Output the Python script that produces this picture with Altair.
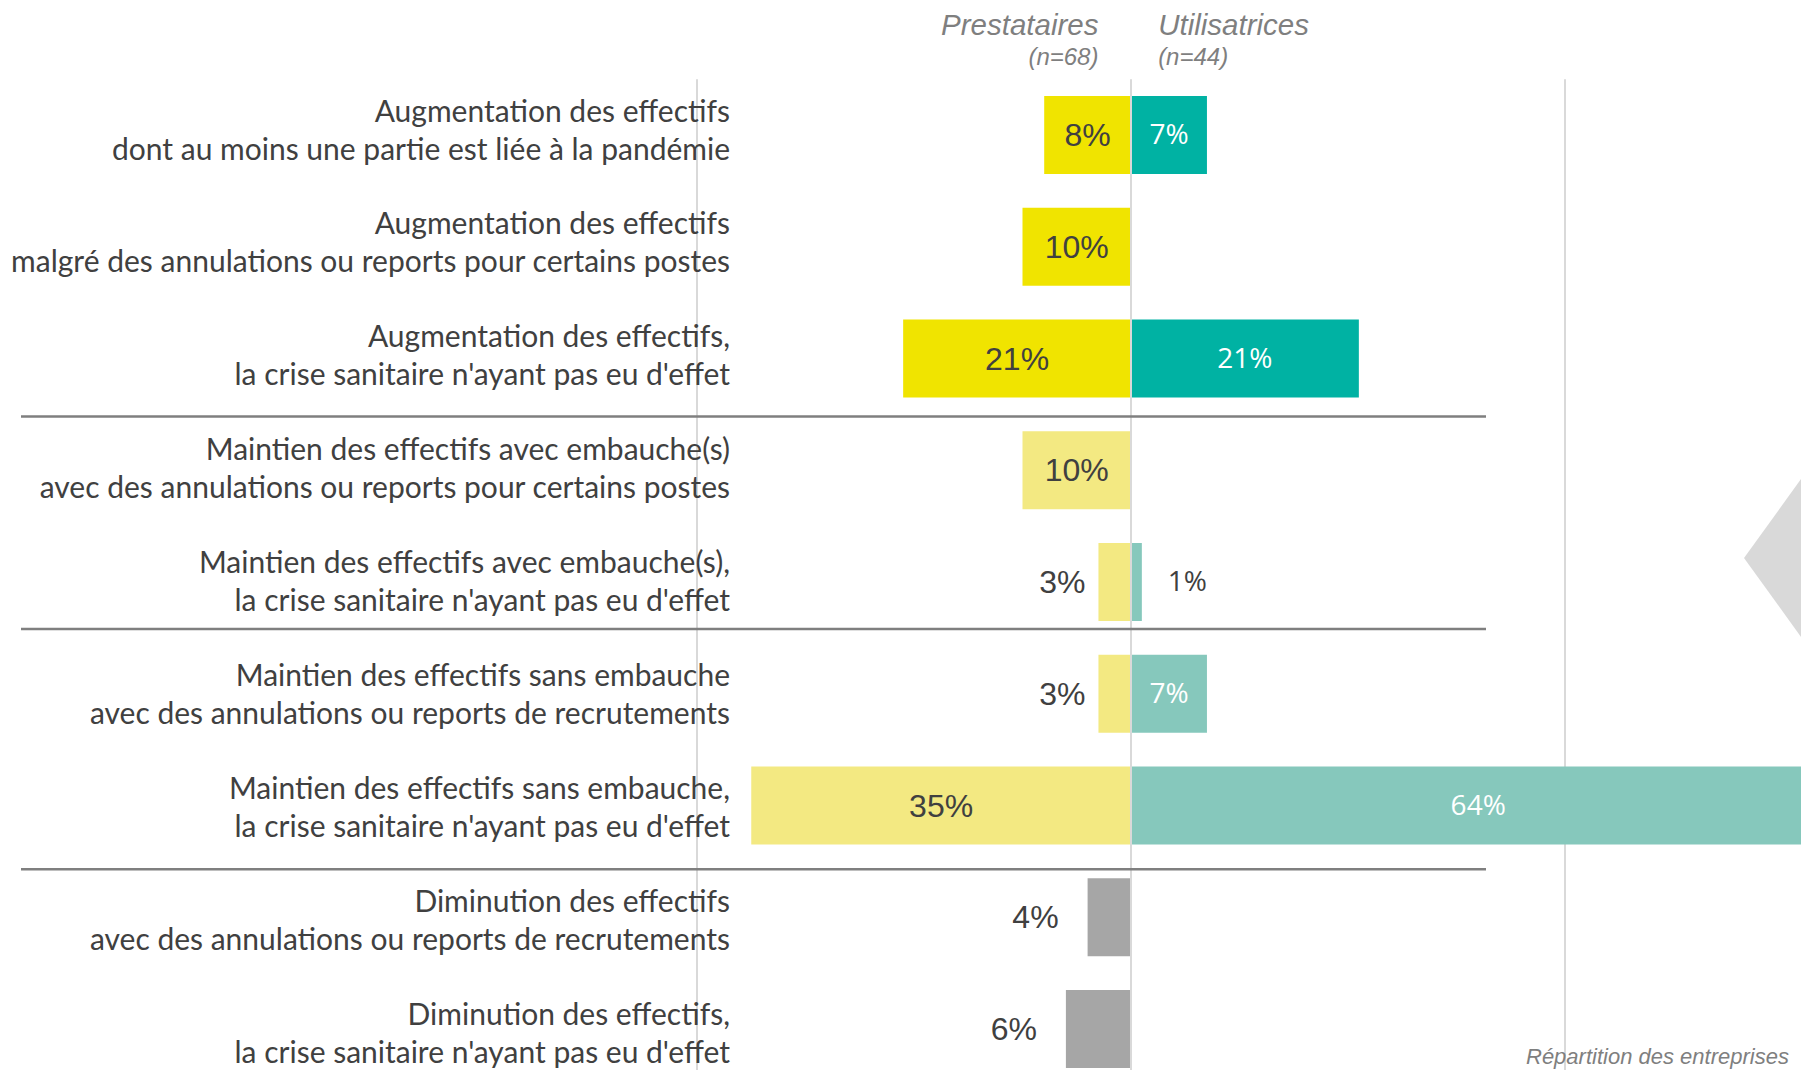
import altair as alt
import pandas as pd

# ---------------- data ----------------
categories = [
    "Augmentation des effectifs\ndont au moins une partie est liée à la pandémie",
    "Augmentation des effectifs\nmalgré des annulations ou reports pour certains postes",
    "Augmentation des effectifs,\nla crise sanitaire n'ayant pas eu d'effet",
    "Maintien des effectifs avec embauche(s)\navec des annulations ou reports pour certains postes",
    "Maintien des effectifs avec embauche(s),\nla crise sanitaire n'ayant pas eu d'effet",
    "Maintien des effectifs sans embauche\navec des annulations ou reports de recrutements",
    "Maintien des effectifs sans embauche,\nla crise sanitaire n'ayant pas eu d'effet",
    "Diminution des effectifs\navec des annulations ou reports de recrutements",
    "Diminution des effectifs,\nla crise sanitaire n'ayant pas eu d'effet",
]
groups = ["aug", "aug", "aug", "main", "main", "main", "main", "dim", "dim"]
prestataires = [8, 10, 21, 10, 3, 3, 35, 4, 6]
utilisatrices = [7, 0, 21, 0, 1, 7, 64, 0, 0]
series_names = ["Prestataires", "Utilisatrices"]
series_n = ["(n=68)", "(n=44)"]
gridlines = [-40, 40, 80]
note = "Répartition des entreprises"

# ---------------- layout constants ----------------
W, H = 1793, 1062
PX_PER_PCT = 10.85
ZERO_PX = 1123.0
ROW_PX = 111.75
ROW0_PX = 127.0
x_dom = [-ZERO_PX / PX_PER_PCT, (W - ZERO_PX) / PX_PER_PCT]
y_dom = [-ROW0_PX / ROW_PX, (H - ROW0_PX) / ROW_PX]

def X(field, **kw):
    return alt.X(field, type="quantitative", axis=None,
                 scale=alt.Scale(domain=x_dom, nice=False, zero=False), **kw)

def Y(field, **kw):
    return alt.Y(field, type="quantitative", axis=None,
                 scale=alt.Scale(domain=y_dom, nice=False, zero=False, reverse=True), **kw)

DARK = "#404040"
GREY_TXT = "#7F7F7F"

# ---------------- long table ----------------
rows = []
for i, (cat, g, p, u) in enumerate(zip(categories, groups, prestataires, utilisatrices)):
    rows.append({"row": i, "group": g, "series": "P", "value": p})
    rows.append({"row": i, "group": g, "series": "U", "value": u})
df = pd.DataFrame(rows)
df = df[df["value"] > 0].reset_index(drop=True)
df["key"] = df["group"] + "_" + df["series"]
df["label"] = df["value"].astype(str) + "%"

color_scale = alt.Scale(
    domain=["aug_P", "aug_U", "main_P", "main_U", "dim_P"],
    range=["#F0E400", "#00B2A3", "#F3E982", "#86C8BC", "#A6A6A6"],
)

base = alt.Chart(df)

bars = base.transform_calculate(
    x0="0",
    x1="datum.series == 'P' ? -datum.value : datum.value",
    y0="datum.row - 0.349",
    y1="datum.row + 0.349",
).mark_bar(strokeWidth=0).encode(
    x=X("x0:Q"), x2="x1:Q",
    y=Y("y0:Q"), y2="y1:Q",
    color=alt.Color("key:N", scale=color_scale, legend=None),
)

# value labels (small bars get their label outside)
P_IN = "datum.series == 'P' && datum.value >= 7"
P_OUT = "datum.series == 'P' && datum.value < 7"
U_IN = "datum.series == 'U' && datum.value >= 5"
U_OUT = "datum.series == 'U' && datum.value < 5"

p_in = base.transform_filter(P_IN).transform_calculate(
    lx="-datum.value / 2").mark_text(
    font="Liberation Sans", fontSize=32, color=DARK, align="center", baseline="middle", dy=1
).encode(x=X("lx:Q"), y=Y("row:Q"), text="label:N")

p_out = base.transform_filter(P_OUT).transform_calculate(
    lx="-datum.value - (datum.group == 'dim' ? 29 : 13) / %f" % PX_PER_PCT).mark_text(
    font="Liberation Sans", fontSize=32, color=DARK, align="right", baseline="middle", dy=1
).encode(x=X("lx:Q"), y=Y("row:Q"), text="label:N")

u_in = base.transform_filter(U_IN).transform_calculate(
    lx="datum.value / 2").mark_text(
    font="Open Sans", fontSize=28, color="white", align="center", baseline="middle", dy=1
).encode(x=X("lx:Q"), y=Y("row:Q"), text="label:N")

u_out = base.transform_filter(U_OUT).transform_calculate(
    lx="datum.value + 26 / %f" % PX_PER_PCT).mark_text(
    font="Open Sans", fontSize=28, color=DARK, align="left", baseline="middle", dy=1
).encode(x=X("lx:Q"), y=Y("row:Q"), text="label:N")

# category labels
cat_df = pd.DataFrame({"row": list(range(len(categories))), "cat": categories})
cat_labels = alt.Chart(cat_df).transform_calculate(
    lx="%f" % ((722 - ZERO_PX) / PX_PER_PCT),
    ly="(-13.5 + datum.row * 112.9) / %f" % ROW_PX,
).mark_text(
    font="Lato", fontSize=30, color=DARK, align="right", baseline="alphabetic",
    lineBreak="\n", lineHeight=38,
).encode(x=X("lx:Q"), y=Y("ly:Q"), text="cat:N")

# gridlines
grid_df = pd.DataFrame({"g": gridlines})
grid = alt.Chart(grid_df).transform_calculate(ya="-0.5", yb="9.5").mark_rule(
    color="#D9D9D9", strokeWidth=2
).encode(x=X("g:Q"), y=Y("ya:Q"), y2="yb:Q")

zero_df = pd.DataFrame({"g": [0]})
zero = alt.Chart(zero_df).transform_calculate(ya="-0.5", yb="9.5").mark_rule(
    color="#D9D9D9", strokeWidth=2
).encode(x=X("g:Q"), y=Y("ya:Q"), y2="yb:Q")

# separators between blocks
sep_df = pd.DataFrame({"s": [2.52, 4.42, 6.57]})
seps = alt.Chart(sep_df).transform_calculate(
    xa="%f" % ((13 - ZERO_PX) / PX_PER_PCT), xb="%f" % ((1478 - ZERO_PX) / PX_PER_PCT)
).mark_rule(color="#7F7F7F", strokeWidth=2.5).encode(
    x=X("xa:Q"), x2="xb:Q", y=Y("s:Q"))

# headers
hdr_df = pd.DataFrame({"name": series_names, "n": series_n, "side": [-1, 1]})
hdr_layers = []
for side, al, hx in [(-1, "right", -3.0), (1, "left", 2.5)]:
    sub = alt.Chart(hdr_df).transform_filter("datum.side == %d" % side)
    hdr_layers.append(sub.transform_calculate(
        hx=str(hx), hy="%f" % ((35 - 8 - ROW0_PX) / ROW_PX)
    ).mark_text(font="Liberation Sans", fontStyle="italic", fontSize=29.5, color=GREY_TXT,
                align=al, baseline="alphabetic").encode(
        x=X("hx:Q"), y=Y("hy:Q"), text="name:N"))
    hdr_layers.append(sub.transform_calculate(
        hx=str(hx), hy="%f" % ((65 - 8 - ROW0_PX) / ROW_PX)
    ).mark_text(font="Liberation Sans", fontStyle="italic", fontSize=24, color=GREY_TXT,
                align=al, baseline="alphabetic").encode(
        x=X("hx:Q"), y=Y("hy:Q"), text="n:N"))

# bottom note
note_df = pd.DataFrame({"t": [note]})
note_txt = alt.Chart(note_df).transform_calculate(
    nx="%f" % ((1518 - ZERO_PX) / PX_PER_PCT), ny="%f" % ((1064 - 8 - ROW0_PX) / ROW_PX)
).mark_text(font="Liberation Sans", fontStyle="italic", fontSize=22, color=GREY_TXT,
            align="left", baseline="alphabetic").encode(
    x=X("nx:Q"), y=Y("ny:Q"), text="t:N")

# decorative grey chevron at the right edge
deco = alt.Chart(pd.DataFrame({"d": [1]})).mark_point(
    shape="M-0.722,0L0,-1L0.722,0L0,1Z", filled=True, color="#D9D9D9", opacity=1,
    size=554 * 554, strokeWidth=0,
).encode(x=alt.value(1736 + 200), y=alt.value(550))

chart = alt.layer(
    grid, bars, zero, seps, cat_labels, p_in, p_out, u_in, u_out,
    *hdr_layers, note_txt, deco,
).properties(
    width=W, height=H, padding=0, autosize=alt.AutoSizeParams(type="none"),
    background="white",
).configure_view(stroke=None)

chart.save("out.html", embed_options={"renderer": "svg", "actions": False})
